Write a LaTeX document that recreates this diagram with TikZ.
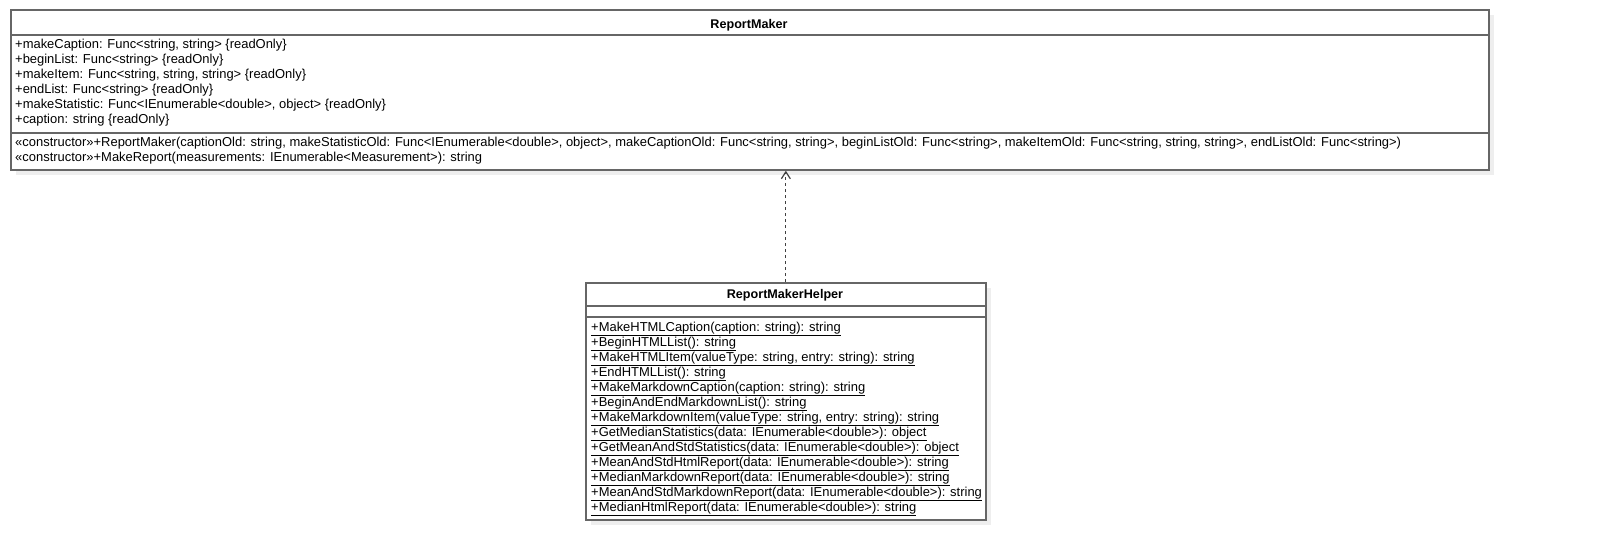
\documentclass[tikz,border=0pt]{standalone}
\usepackage{fontspec}
\setmainfont{Liberation Sans}
\usepackage{tikz}
\usetikzlibrary{arrows.meta,shadows,positioning}
\definecolor{boxline}{HTML}{666666}
\definecolor{boxshadow}{HTML}{EEEEEE}
\tikzset{
  umlbox/.style={draw=boxline, line width=1.7pt, fill=white, anchor=north west, inner sep=0pt,
    drop shadow={shadow xshift=5pt, shadow yshift=-5pt, fill=boxshadow, opacity=1, draw=none}},
  compartment/.style={draw=boxline, line width=1.7pt},
  member/.style={anchor=base west, inner sep=0pt, font=\fontsize{12.95}{15}\selectfont},
  classname/.style={anchor=base, inner sep=0pt, font=\fontsize{12.6}{15}\selectfont\bfseries},
  depend/.style={draw=black!75, line width=1.2pt, dash pattern=on 3pt off 3pt,
    -{Straight Barb[length=7pt,width=9pt]}}
}

\begin{document}
\begin{tikzpicture}[x=1pt,y=-1pt]
  \useasboundingbox (0,0) rectangle (1599,559);
  \node[umlbox, minimum width=1478pt, minimum height=160pt] (maker) at (10,9) {}; % ReportMaker box
  \draw[compartment] (10,35) -- (1488,35); % title line
  \draw[compartment] (10,133) -- (1488,133); % attribute line
  \node[classname] (makername) at (749,29) {ReportMaker}; % class name
  \node[member] (makecap) at (15,49) {+makeCaption: Func<string, string> \{readOnly\}};
  \node[member] (beginlist) at (15,64) {+beginList: Func<string> \{readOnly\}};
  \node[member] (makeitem) at (15,79) {+makeItem: Func<string, string, string> \{readOnly\}};
  \node[member] (endlist) at (15,94) {+endList: Func<string> \{readOnly\}};
  \node[member] (makestat) at (15,109) {+makeStatistic: Func<IEnumerable<double>, object> \{readOnly\}};
  \node[member] (caption) at (15,124) {+caption: string \{readOnly\}};
  \node[member] (ctor) at (15,147) {«constructor»+ReportMaker(captionOld: string, makeStatisticOld: Func<IEnumerable<double>, object>, makeCaptionOld: Func<string, string>, beginListOld: Func<string>, makeItemOld: Func<string, string, string>, endListOld: Func<string>)};
  \node[member] (makereport) at (15,162) {«constructor»+MakeReport(measurements: IEnumerable<Measurement>): string};

  \node[umlbox, minimum width=400pt, minimum height=237pt] (helper) at (585,282) {}; % ReportMakerHelper box
  \draw[compartment] (585,306) -- (985,306); % title line
  \draw[compartment] (585,317) -- (985,317); % empty attributes
  \node[classname] (helpername) at (785,298) {ReportMakerHelper}; % class name
  \node[member] (htmlcap) at (591,331.5) {\underline{+MakeHTMLCaption(caption: string): string}};
  \node[member] (htmlbegin) at (591,346.5) {\underline{+BeginHTMLList(): string}};
  \node[member] (htmlitem) at (591,361.5) {\underline{+MakeHTMLItem(valueType: string, entry: string): string}};
  \node[member] (htmlend) at (591,376.5) {\underline{+EndHTMLList(): string}};
  \node[member] (mdcap) at (591,391.5) {\underline{+MakeMarkdownCaption(caption: string): string}};
  \node[member] (mdlist) at (591,406.5) {\underline{+BeginAndEndMarkdownList(): string}};
  \node[member] (mditem) at (591,421.5) {\underline{+MakeMarkdownItem(valueType: string, entry: string): string}};
  \node[member] (medstat) at (591,436.5) {\underline{+GetMedianStatistics(data: IEnumerable<double>): object}};
  \node[member] (meanstat) at (591,451.5) {\underline{+GetMeanAndStdStatistics(data: IEnumerable<double>): object}};
  \node[member] (meanhtml) at (591,466.5) {\underline{+MeanAndStdHtmlReport(data: IEnumerable<double>): string}};
  \node[member] (medmd) at (591,481.5) {\underline{+MedianMarkdownReport(data: IEnumerable<double>): string}};
  \node[member] (meanmd) at (591,496.5) {\underline{+MeanAndStdMarkdownReport(data: IEnumerable<double>): string}};
  \node[member] (medhtml) at (591,511.5) {\underline{+MedianHtmlReport(data: IEnumerable<double>): string}};

  \draw[depend] (helper.north) -- (helper.north |- maker.south); % dependency
\end{tikzpicture}
\end{document}
